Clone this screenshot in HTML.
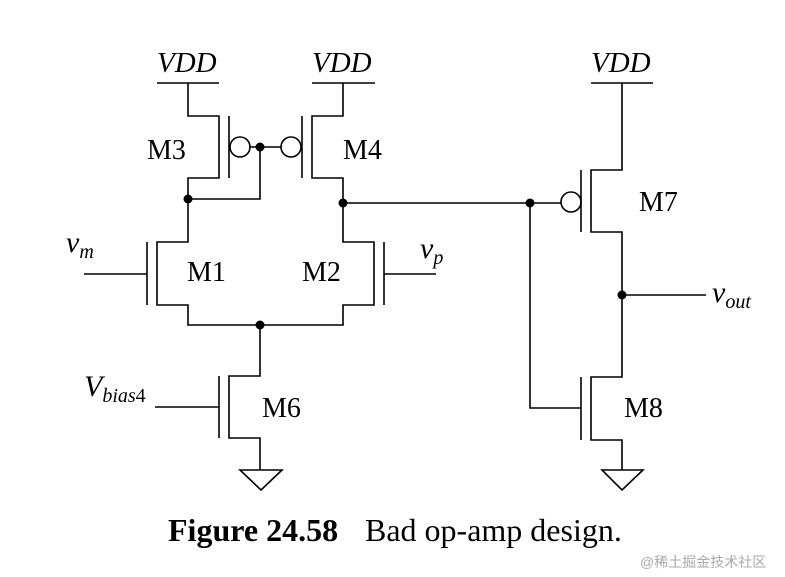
<!DOCTYPE html>
<html><head><style>
body{margin:0;background:#fff}
svg{display:block}
text{font-family:"Liberation Serif",serif;fill:#000}
</style></head><body>
<svg width="785" height="577" viewBox="0 0 785 577" xmlns="http://www.w3.org/2000/svg">
<g stroke="#000" stroke-width="1.6" fill="none">
<line x1="157" y1="83" x2="219" y2="83"/>
<line x1="312" y1="83" x2="375" y2="83"/>
<line x1="591" y1="83" x2="653" y2="83"/>
<polyline points="188,83 188,116 219,116 219,178 188,178 188,242 157,242 157,305 188,305 188,325 343,325 343,305 374,305 374,242 343,242 343,178 312,178 312,116 343,116 343,83"/>
<line x1="229" y1="116" x2="229" y2="178"/>
<line x1="302" y1="116" x2="302" y2="178"/>
<circle cx="240" cy="147" r="10"/>
<circle cx="291" cy="147" r="10"/>
<line x1="250" y1="147" x2="281" y2="147"/>
<polyline points="188,199 260,199 260,147"/>
<line x1="343" y1="203" x2="530" y2="203"/>
<line x1="147" y1="242" x2="147" y2="305"/>
<line x1="84" y1="274" x2="147" y2="274"/>
<line x1="384" y1="242" x2="384" y2="305"/>
<line x1="384" y1="274" x2="436" y2="274"/>
<polyline points="260,325 260,376 229,376 229,438 260,438 260,470"/>
<line x1="219" y1="376" x2="219" y2="438"/>
<line x1="155" y1="407" x2="219" y2="407"/>
<polygon points="240,470 282,470 261,490"/>
<polyline points="622,83 622,170 591,170 591,232 622,232 622,377 591,377 591,440 622,440 622,470"/>
<line x1="581" y1="170" x2="581" y2="232"/>
<line x1="581" y1="377" x2="581" y2="440"/>
<circle cx="571" cy="202" r="10"/>
<line x1="530" y1="203" x2="561" y2="203"/>
<polyline points="530,203 530,408 581,408"/>
<line x1="622" y1="295" x2="706" y2="295"/>
<polygon points="602,470 643,470 622,490"/>
</g>
<g fill="#000">
<circle cx="260" cy="147" r="4.5"/>
<circle cx="188" cy="199" r="4.5"/>
<circle cx="343" cy="203" r="4.5"/>
<circle cx="260" cy="325" r="4.5"/>
<circle cx="530" cy="203" r="4.5"/>
<circle cx="622" cy="295" r="4.5"/>
</g>
<g font-size="29" font-style="italic">
<text x="157" y="72">VDD</text>
<text x="312" y="72">VDD</text>
<text x="591" y="72">VDD</text>
</g>
<g font-size="28">
<text x="147" y="159">M3</text>
<text x="343" y="159">M4</text>
<text x="187" y="281">M1</text>
<text x="302" y="281">M2</text>
<text x="262" y="417">M6</text>
<text x="639" y="211">M7</text>
<text x="624" y="417">M8</text>
</g>
<text x="66" y="252" font-size="30" font-style="italic">v<tspan font-size="20" dy="6">m</tspan></text>
<text x="420" y="258" font-size="30" font-style="italic">v<tspan font-size="20" dy="6">p</tspan></text>
<text x="712" y="302" font-size="30" font-style="italic">v<tspan font-size="20" dy="6">out</tspan></text>
<text x="84" y="396" font-size="30" font-style="italic">V<tspan font-size="20" dy="6">bias</tspan><tspan font-style="normal" font-size="20">4</tspan></text>
<text x="168" y="541" font-size="32" font-weight="bold">Figure 24.58</text>
<text x="365" y="541" font-size="32">Bad op-amp design.</text>
<text x="640" y="567" font-size="14" style="fill:#aaa;font-family:'Liberation Sans','Noto Sans CJK SC',sans-serif">@稀土掘金技术社区</text>
</svg>
</body></html>
